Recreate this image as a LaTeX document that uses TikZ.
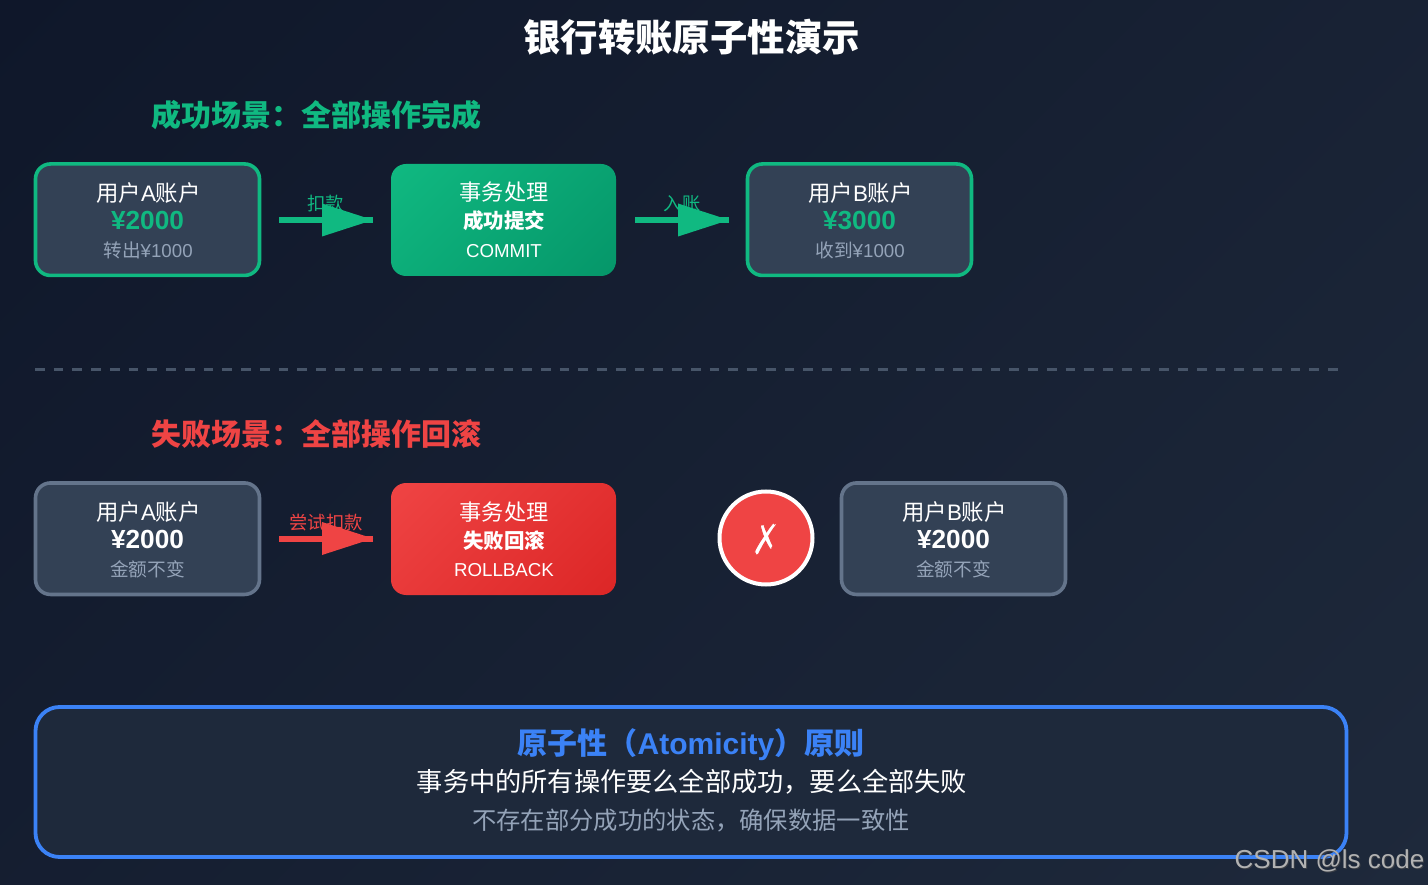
\documentclass[tikz,border=0pt]{standalone}
\usepackage{fontspec}
\setmainfont{Liberation Sans}
\newfontfamily\cjk{Noto Sans CJK SC}
\newfontfamily\symf{DejaVu Sans}
\usetikzlibrary{arrows.meta}
\definecolor{bgA}{HTML}{0F172A}
\definecolor{bgB}{HTML}{1E293B}
\definecolor{okc}{HTML}{10B981}
\definecolor{okd}{HTML}{059669}
\definecolor{bad}{HTML}{EF4444}
\definecolor{badd}{HTML}{DC2626}
\definecolor{slate}{HTML}{334155}
\definecolor{edge}{HTML}{64748B}
\definecolor{muted}{HTML}{94A3B8}
\definecolor{blu}{HTML}{3B82F6}
\definecolor{dashc}{HTML}{475569}
\newcommand{\fs}[1]{\fontsize{#1}{#1}\selectfont}
\tikzset{
  x=1pt,y=-1pt,
  txt/.style={anchor=base,inner sep=0pt,outer sep=0pt},
  acct/.style={draw=#1,line width=3.6pt,fill=slate,rounded corners=15pt,minimum width=224pt,minimum height=111.5pt,inner sep=0pt},
  proc/.style 2 args={rounded corners=15pt,minimum width=225pt,minimum height=112pt,inner sep=0pt,
    path picture={\shade[transform canvas={rotate around={-45:(path picture bounding box.center)}},left color=#1,right color=#2]
      ([shift={(-119.2pt,-200pt)}]path picture bounding box.center) rectangle ([shift={(119.2pt,200pt)}]path picture bounding box.center);}},
  flowline/.style={line width=6pt,color=#1},
  flowtip/.style={line width=6pt,color=#1,-{Triangle[length=51pt,width=33pt,line width=0pt]}},
  lineA/.style={txt,white,font=\fs{22.4}},
  amount/.style={txt,font=\fs{26.2}\bfseries},
  subl/.style={txt,muted,font=\fs{18.7}},
  midb/.style={txt,white,font=\fs{20.5}\bfseries\cjk},
  midc/.style={txt,white,font=\fs{18.7}},
  arlabel/.style={txt,font=\fs{18.3}\cjk}
}
\begin{document}
\begin{tikzpicture}
\useasboundingbox (0,0) rectangle (1428,885);
\begin{scope}
\clip (0,0) rectangle (1428,885);
\shade[transform canvas={rotate around={-45:(714,442.5)}},left color=bgA,right color=bgB] (-103.8,-400) rectangle (1531.8,1285);
\end{scope}

\node[txt,white,font=\fs{37.4}\bfseries\cjk] (title) at (691.5,51.5) {银行转账原子性演示};
\node[txt,okc,font=\fs{30}\bfseries\cjk] (headok) at (316.5,127) {成功场景：全部操作完成};
\node[txt,bad,font=\fs{30}\bfseries\cjk] (headbad) at (316.5,446) {失败场景：全部操作回滚};

% success row
\node[acct=okc] (a1) at (147.5,219.7) {};
\node[lineA] (a1t) at (148.5,201.5) {{\cjk 用户}A{\cjk 账户}};
\node[amount,okc] (a1m) at (147.5,229.5) {¥2000};
\node[subl] (a1s) at (148,258) {{\cjk 转出}¥1000};

\node[proc={okc}{okd}] (t1) at (503.5,220) {};
\node[txt,white,font=\fs{22.2}\cjk] (t1a) at (504,201) {事务处理};
\node[midb] (t1b) at (504,229) {成功提交};
\node[midc] (t1c) at (504,258) {COMMIT};

\node[acct=okc] (b1) at (859.5,219.7) {};
\node[lineA] (b1t) at (860.5,201.5) {{\cjk 用户}B{\cjk 账户}};
\node[amount,okc] (b1m) at (859.5,229.5) {¥3000};
\node[subl] (b1s) at (860,258) {{\cjk 收到}¥1000};

\node[arlabel,okc] (l1) at (325.5,210.5) {扣款};
\node[arlabel,okc] (l2) at (682,210.5) {入账};
\coordinate (f1) at (279,220);
\coordinate (f2) at (373,220);
\coordinate (f3) at (635,220);
\coordinate (f4) at (729,220);
\draw[flowline=okc] (f1) -- (f2);
\draw[flowtip=okc] (f1) -- (f2);
\draw[flowline=okc] (f3) -- (f4);
\draw[flowtip=okc] (f3) -- (f4);

% divider
\coordinate (d1) at (35,369.7);
\coordinate (d2) at (1340,369.7);
\draw[dashc,line width=2.4pt,dash pattern=on 9.7pt off 9.04pt] (d1) -- (d2);

% failure row
\node[acct=edge] (a2) at (147.5,538.7) {};
\node[lineA] (a2t) at (148.5,520.5) {{\cjk 用户}A{\cjk 账户}};
\node[amount,white] (a2m) at (147.5,548) {¥2000};
\node[subl] (a2s) at (147.5,576.5) {\cjk 金额不变};

\node[proc={bad}{badd}] (t2) at (503.5,539) {};
\node[txt,white,font=\fs{22.2}\cjk] (t2a) at (504,520) {事务处理};
\node[midb] (t2b) at (504,548) {失败回滚};
\node[midc] (t2c) at (504,576.5) {ROLLBACK};

\node[acct=edge] (b2) at (953.5,538.7) {};
\node[lineA] (b2t) at (954.5,520.5) {{\cjk 用户}B{\cjk 账户}};
\node[amount,white] (b2m) at (953.5,548) {¥2000};
\node[subl] (b2s) at (953.5,576.5) {\cjk 金额不变};

\node[arlabel,bad] (l3) at (326,529.5) {尝试扣款};
\coordinate (f5) at (279,538.5);
\coordinate (f6) at (373,538.5);
\draw[flowline=bad] (f5) -- (f6);
\draw[flowtip=bad] (f5) -- (f6);

\node[circle,draw=white,line width=4pt,fill=bad,minimum size=93pt,inner sep=0pt] (x) at (766,538) {};
\node[txt,white,font=\fs{42}\symf,xscale=.88,yscale=1.05,transform shape] (xm) at (766,555) {\special{pdf:code q 2 Tr 1.1 w 0.937 0.267 0.267 RG}✗\special{pdf:code Q}};

% principle box
\node[draw=blu,line width=3.8pt,fill=bgB,rounded corners=24pt,minimum width=1311pt,minimum height=150pt,inner sep=0pt] (p) at (691,782) {};
\node[txt,blu,font=\fs{30}\bfseries] (p1) at (691,754) {{\cjk 原子性（}Atomicity{\cjk ）原则}};
\node[txt,white,font=\fs{26.2}\cjk] (p2) at (692,791) {事务中的所有操作要么全部成功，要么全部失败};
\node[txt,muted,font=\fs{24.3}\cjk] (p3) at (691,829) {不存在部分成功的状态，确保数据一致性};

\node[txt,black!70,opacity=.6,font=\fs{26}] (wms) at (1330.5,869) {CSDN @ls code};
\node[txt,color=black!30,font=\fs{26}] (wm) at (1329.5,868) {CSDN @ls code};
\end{tikzpicture}
\end{document}
